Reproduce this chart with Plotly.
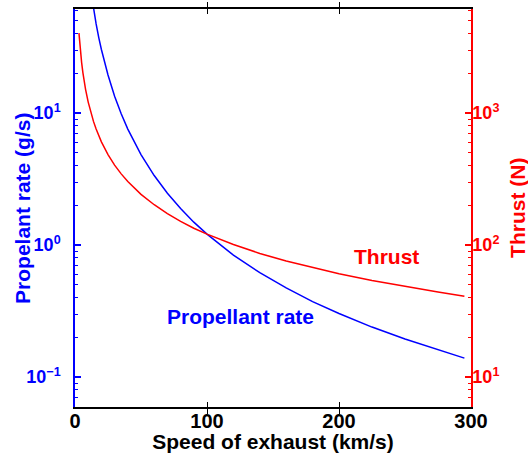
import plotly.graph_objects as go
import math

# Speed of exhaust (km/s)
thrust_speed = [3, 4, 5, 6, 7, 8, 10, 12, 14, 16, 18, 20, 25, 30, 35, 40, 50, 60, 70, 80,
                90, 100, 120, 140, 160, 180, 200, 225, 250, 275, 295]
# Thrust (N)
thrust_values = [4033, 3025, 2420, 2017, 1729, 1513, 1210, 1008, 864, 756, 672, 605, 484, 403,
                 346, 303, 242, 202, 173, 151, 134, 121, 101, 86.4, 75.6, 67.2, 60.5, 53.8,
                 48.4, 44.0, 41.0]

prop_speed = [12, 14, 16, 18, 20, 25, 30, 35, 40, 50, 60, 70, 80, 90, 100, 120, 140, 160,
              180, 200, 225, 250, 275, 295]
# Propellant rate (g/s)
prop_values = [84.0, 61.7, 47.3, 37.3, 30.3, 19.4, 13.4, 9.88, 7.56, 4.84, 3.36, 2.47, 1.89,
               1.49, 1.21, 0.840, 0.617, 0.473, 0.373, 0.303, 0.239, 0.194, 0.160, 0.139]

x_ticks = [0, 100, 200, 300]
left_ticks = [0.1, 1, 10]
left_ticktext = ["10<sup>\u22121</sup>", "10<sup>0</sup>", "10<sup>1</sup>"]
left_minor = [0.06, 0.07, 0.08, 0.09, 0.2, 0.3, 0.4, 0.5, 0.6, 0.7, 0.8, 0.9,
              2, 3, 4, 5, 6, 7, 8, 9, 20, 30, 40, 50, 60]
right_ticks = [10, 100, 1000]
right_ticktext = ["10<sup>1</sup>", "10<sup>2</sup>", "10<sup>3</sup>"]
right_minor = [6, 7, 8, 9, 20, 30, 40, 50, 60, 70, 80, 90,
               200, 300, 400, 500, 600, 700, 800, 900, 2000, 3000, 4000, 5000, 6000]

BLUE = "#0000ff"
RED = "#ff0000"
FONT = "Liberation Sans"
XTICK = 20
YTICK = 18
TITLE = 21

fig = go.Figure()
fig.add_trace(go.Scatter(x=prop_speed, y=prop_values, mode="lines", line=dict(color=BLUE, width=1.5),
                         yaxis="y", showlegend=False))
fig.add_trace(go.Scatter(x=thrust_speed, y=thrust_values, mode="lines", line=dict(color=RED, width=1.5),
                         yaxis="y2", showlegend=False))
# empty traces so that the minor-tick axes are drawn
fig.add_trace(go.Scatter(x=[None], y=[None], yaxis="y3", showlegend=False, hoverinfo="skip"))
fig.add_trace(go.Scatter(x=[None], y=[None], yaxis="y4", showlegend=False, hoverinfo="skip"))

lo, hi = -1.227, 1.788

fig.update_layout(
    width=528, height=453,
    margin=dict(l=75, r=57, t=9, b=46, autoexpand=False),
    paper_bgcolor="white", plot_bgcolor="white",
    font=dict(family=FONT, size=XTICK, color="black"),
    xaxis=dict(
        range=[0, 300], tickvals=x_ticks, ticks="inside", ticklen=5, tickwidth=1,
        tickcolor="black", showline=True, linecolor="black", linewidth=2, mirror="allticks",
        showgrid=False, zeroline=False, automargin=False, ticklabelstandoff=-5,
        tickfont=dict(family=FONT, size=XTICK, color="black", weight="bold"),
        title=dict(text="<b>Speed of exhaust (km/s)</b>", standoff=3,
                   font=dict(family=FONT, size=TITLE, color="black")),
    ),
    yaxis=dict(
        type="log", range=[lo, hi], tickvals=left_ticks, ticktext=left_ticktext,
        ticks="inside", ticklen=6, tickwidth=1.5, tickcolor=BLUE, showline=True,
        linecolor=BLUE, linewidth=1.5,
        showgrid=False, zeroline=False, automargin=False, ticklabelstandoff=9,
        tickfont=dict(family=FONT, size=YTICK, color=BLUE, weight="bold"),
    ),
    yaxis2=dict(
        type="log", range=[lo + 2, hi + 2], tickvals=right_ticks, ticktext=right_ticktext,
        overlaying="y", side="right", anchor="x",
        ticks="inside", ticklen=6, tickwidth=1.5, tickcolor=RED, showline=True,
        linecolor=RED, linewidth=1.5,
        showgrid=False, zeroline=False, automargin=False, ticklabelstandoff=-4,
        tickfont=dict(family=FONT, size=YTICK, color=RED, weight="bold"),
    ),
    yaxis3=dict(
        type="log", range=[lo, hi], tickvals=left_minor, showticklabels=False,
        overlaying="y", side="left", anchor="x",
        ticks="inside", ticklen=3, tickwidth=1, tickcolor=BLUE, showline=False,
        showgrid=False, zeroline=False, automargin=False,
    ),
    yaxis4=dict(
        type="log", range=[lo + 2, hi + 2], tickvals=right_minor, showticklabels=False,
        overlaying="y", side="right", anchor="x",
        ticks="inside", ticklen=3, tickwidth=1, tickcolor=RED, showline=False,
        showgrid=False, zeroline=False, automargin=False,
    ),
    annotations=[
        dict(x=-0.134, y=0.5, xref="paper", yref="paper", text="<b>Propelant rate (g/s)</b>",
             textangle=-90, showarrow=False, xanchor="center", yanchor="middle",
             font=dict(family=FONT, size=TITLE, color=BLUE)),
        dict(x=1.116, y=0.5, xref="paper", yref="paper", text="<b>Thrust (N)</b>",
             textangle=-90, showarrow=False, xanchor="center", yanchor="middle",
             font=dict(family=FONT, size=TITLE, color=RED)),
        dict(x=125, y=math.log10(0.286), xref="x", yref="y", text="<b>Propellant rate</b>",
             showarrow=False, font=dict(family=FONT, size=TITLE, color=BLUE), xanchor="center"),
        dict(x=236, y=math.log10(82), xref="x", yref="y2", text="<b>Thrust</b>",
             showarrow=False, font=dict(family=FONT, size=TITLE, color=RED), xanchor="center"),
    ],
)

fig.write_html("out.html", config={"displayModeBar": False},
               post_script="document.body.style.margin='0';")
